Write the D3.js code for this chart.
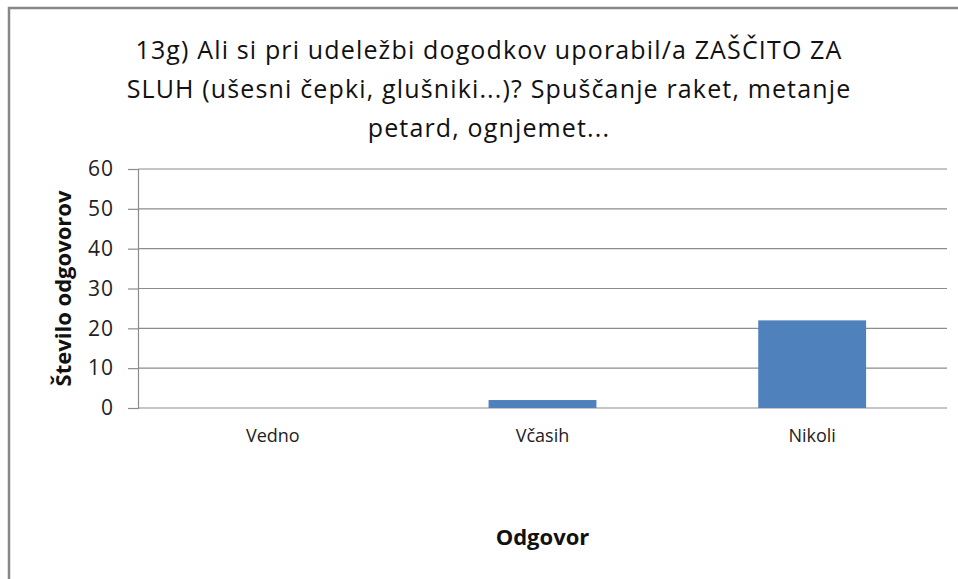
<!DOCTYPE html>
<html>
<head>
<meta charset="utf-8">
<script src="https://cdn.jsdelivr.net/npm/d3@7"></script>
<style>
  body { margin: 0; background: #fff; }
  svg { display: block; font-family: "Open Sans", sans-serif; }
</style>
</head>
<body>
<div class="chart"></div>
<script>
// data
const categories = ["Vedno", "Včasih", "Nikoli"];
const answers = [0, 2, 22];
const yTicks = [0, 10, 20, 30, 40, 50, 60];
const titleLines = [
   "13g) Ali si pri udeležbi dogodkov uporabil/a ZAŠČITO ZA",
   "SLUH (ušesni čepki, glušniki...)? Spuščanje raket, metanje",
   "petard, ognjemet..."
];
const xTitle = "Odgovor";
const yTitle = "Število odgovorov";

// setup chart
const width = 958;
const height = 579;
const plot = { left: 138, right: 947, top: 169, bottom: 408 };

const svg = d3.select(".chart").append("svg").attr("width", width).attr("height", height);

// chart border (runs off the right and bottom edge like the original)
svg.append("rect")
   .attr("x", 9).attr("y", 8)
   .attr("width", 1000).attr("height", 700)
   .attr("fill", "#fff")
   .attr("stroke", "#888").attr("stroke-width", 2.5);

// scales
const x = d3.scaleBand().domain(categories).range([plot.left, plot.right]).paddingInner(0.6).paddingOuter(0.3);
const y = d3.scaleLinear().domain([0, 60]).range([plot.bottom, plot.top]);

// gridlines
svg.append("g")
   .selectAll("line")
   .data(yTicks)
   .enter()
   .append("line")
   .attr("x1", plot.left).attr("x2", plot.right)
   .attr("y1", (d) => y(d)).attr("y2", (d) => y(d))
   .attr("stroke", "#8c8c8c").attr("stroke-width", 1.2);

// y axis
const yAxis = svg.append("g")
   .attr("transform", `translate(${plot.left},0)`)
   .call(d3.axisLeft(y).tickValues(yTicks).tickSize(10).tickPadding(14));
yAxis.select(".domain").attr("stroke", "#8c8c8c").attr("stroke-width", 1.2);
yAxis.selectAll(".tick line").attr("stroke", "#8c8c8c").attr("stroke-width", 1.2);
yAxis.selectAll(".tick text")
   .attr("fill", "#222")
   .style("font-size", "21px")
   .style("letter-spacing", "1px")
   .style("font-family", "'Open Sans', sans-serif");

// x axis labels
const xAxis = svg.append("g")
   .attr("transform", `translate(0,${plot.bottom})`)
   .call(d3.axisBottom(x).tickSize(0).tickPadding(21));
xAxis.select(".domain").remove();
xAxis.selectAll(".tick text")
   .attr("fill", "#222")
   .style("font-size", "18px")
   .style("font-family", "'Open Sans', sans-serif");

// bars
svg.append("g")
   .selectAll("rect")
   .data(answers)
   .enter()
   .append("rect")
   .attr("x", (d, i) => x(categories[i]))
   .attr("y", (d) => y(d))
   .attr("width", x.bandwidth())
   .attr("height", (d) => y(0) - y(d))
   .attr("fill", "#4f81bd");

// title
svg.append("text")
   .attr("text-anchor", "middle")
   .attr("fill", "#111")
   .style("font-size", "25px")
   .style("letter-spacing", "1.15px")
   .selectAll("tspan")
   .data(titleLines)
   .enter()
   .append("tspan")
   .attr("x", 489)
   .attr("y", (d, i) => 59 + i * 39)
   .text((d) => d);

// axis titles
svg.append("text")
   .attr("x", (plot.left + plot.right) / 2)
   .attr("y", 545)
   .attr("text-anchor", "middle")
   .attr("fill", "#111")
   .style("font-size", "22px")
   .style("font-weight", "bold")
   .text(xTitle);

svg.append("text")
   .attr("transform", `translate(71,${(plot.top + plot.bottom) / 2}) rotate(-90)`)
   .attr("text-anchor", "middle")
   .attr("fill", "#111")
   .style("font-size", "22px")
   .style("font-weight", "bold")
   .text(yTitle);
</script>
</body>
</html>
